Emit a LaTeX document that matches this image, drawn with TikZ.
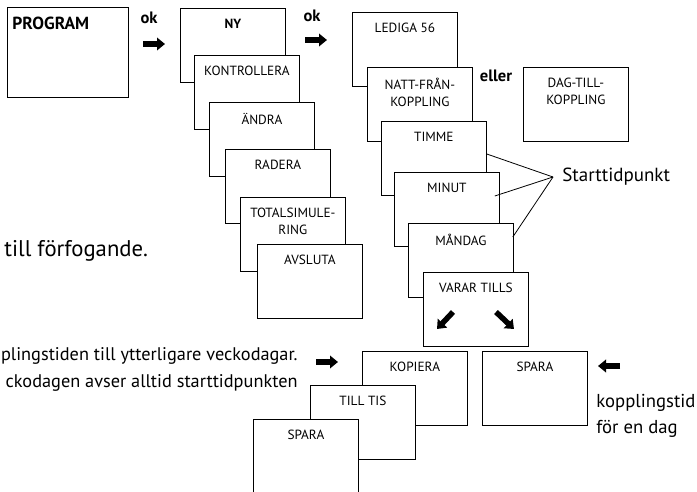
\documentclass[tikz,border=0pt]{standalone}
\usepackage{fontspec}
\setmainfont{PT Sans}
\usetikzlibrary{arrows.meta,calc}

\begin{document}
\begin{tikzpicture}[x=1pt,y=-1pt,line width=0.8pt,
b/.style={draw,fill=white,anchor=north west,minimum width=105pt,minimum height=74pt,inner sep=0pt},
t/.style={anchor=north,inner sep=0pt,yshift=-10.5pt,align=center,font=\fontsize{13.3}{17.5}\selectfont},
a/.style={line width=5.5pt,-{Triangle[length=8pt,width=12.5pt]}},
w/.style={font=\fontsize{19}{23}\selectfont,inner sep=0pt},
k/.style={font=\bfseries\fontsize{16.5}{20}\selectfont,inner sep=0pt}]
\useasboundingbox (0,0) rectangle (697,492);
% first column
\node[b,minimum width=121pt,minimum height=90pt,label={[t,anchor=north west,xshift=5pt,yshift=0.5pt,font=\bfseries\fontsize{17.5}{20}\selectfont]north west:PROGRAM}] (prog) at (7,7) {};
\node[k] (ok1) at (149,18) {ok};
\draw[a] (143,44) -- (165,44);
% menu stack
\node[b,label={[t,font=\bfseries\fontsize{13.3}{17}\selectfont]north:NY}] (ny) at (180,8) {};
\node[b,label={[t]north:KONTROLLERA}] (kontr) at (194,55) {};
\node[b,label={[t]north:ÄNDRA}] (andra) at (209,102) {};
\node[b,label={[t]north:RADERA}] (radera) at (225,149) {};
\node[b,label={[t]north:TOTALSIMULE-\\RING}] (total) at (240,197) {};
\node[b,label={[t]north:AVSLUTA}] (avsluta) at (257,244) {};
\node[k] (ok2) at (312,16) {ok};
\draw[a] (305,40) -- (327,40);
% program stack
\node[b,label={[t]north:LEDIGA 56}] (lediga) at (352,12) {};
\node[b,label={[t]north:NATT-FRÅN-\\KOPPLING}] (natt) at (367,67) {};
\node[k] (eller) at (496,76) {eller};
\node[b,label={[t]north:DAG-TILL-\\KOPPLING}] (dag) at (523,67) {};
\node[b,label={[t]north:TIMME}] (timme) at (381,121) {};
\node[b,label={[t]north:MINUT}] (minut) at (394,172) {};
\node[b,label={[t]north:MÅNDAG}] (mandag) at (408,223) {};
\node[b,label={[t]north:VARAR TILLS}] (varar) at (423,272) {};
\draw[a] (453,312) -- (437,329);
\draw[a] (496,312) -- (514,329);
% start time
\node[w,anchor=west] (start) at (562,177) {Starttidpunkt};
\coordinate (sp) at (553,177);
\draw (sp) -- ($(timme.north east)+(0,33)$);
\draw (sp) -- ($(minut.north east)+(-5,24)$);
\draw (sp) -- ($(mandag.north east)+(-1,14)$);
% copy / save
\node[b,label={[t]north:KOPIERA}] (kopiera) at (362,351) {};
\node[b,label={[t]north:TILL TIS}] (tilltis) at (310,385) {};
\node[b,label={[t]north:SPARA}] (spara1) at (253,419) {};
\node[b,label={[t]north:SPARA}] (spara2) at (482,351) {};
\draw[a] (316,362) -- (338,362);
\draw[a] (620,366) -- (598,366);
% texts
\node[w,anchor=base west,font=\fontsize{22.7}{26}\selectfont] (forf) at (4,257) {till förfogande.};
\node[w,anchor=base east,font=\fontsize{18.3}{22}\selectfont] (txt1) at (298,360) {plingstiden till ytterligare veckodagar.};
\node[w,anchor=base east,font=\fontsize{18.3}{22}\selectfont] (txt2) at (298,387) {ckodagen avser alltid starttidpunkten};
\node[w,anchor=base west,font=\fontsize{18.7}{22}\selectfont] (kt1) at (596,407) {kopplingstid};
\node[w,anchor=base west,font=\fontsize{18.7}{22}\selectfont] (kt2) at (596,433) {för en dag};
\end{tikzpicture}
\end{document}
